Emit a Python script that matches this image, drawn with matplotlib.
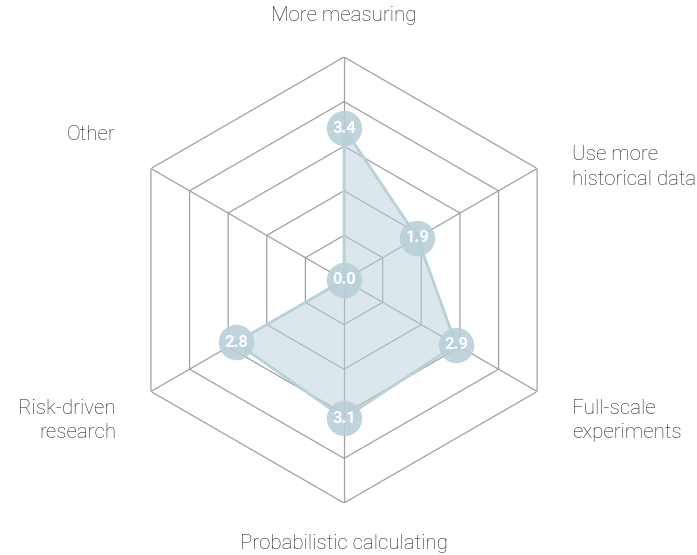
import numpy as np
import matplotlib
matplotlib.use("Agg")
import matplotlib.pyplot as plt

categories = ["More measuring", "Use more\nhistorical data", "Full-scale\nexperiments",
              "Probabilistic calculating", "Risk-driven\nresearch", "Other"]
values = [3.4, 1.9, 2.9, 3.1, 2.8, 0.0]
rings = [1, 2, 3, 4, 5]
r_max = 5

# label placement (theta in degrees clockwise from top, radius in data units)
label_theta = [0, 63.6, 121.7, 180, 238.3, 302.5]
label_r = [5.92, 5.70, 6.01, 5.90, 6.01, 6.08]
label_ha = ["center", "left", "left", "center", "right", "right"]

plt.rcParams['font.family'] = ['Roboto', 'DejaVu Sans']

fig = plt.figure(figsize=(6.97, 5.55), dpi=100)
ax = fig.add_axes([0.1736, 0.0937, 0.640, 0.8036], projection='polar')
ax.set_theta_zero_location('N')
ax.set_theta_direction(-1)
ax.set_ylim(0, r_max)
ax.grid(False)
ax.spines['polar'].set_visible(False)
ax.set_xticks([])
ax.set_yticks([])
ax.patch.set_alpha(0)

n = len(categories)
theta = np.arange(n) * 2 * np.pi / n
theta_closed = np.append(theta, theta[0])

grid_color = "#a0a0a0"
for r in rings:
    ax.plot(theta_closed, [r] * (n + 1), color=grid_color, lw=0.9, zorder=1)
for t in theta:
    ax.plot([t, t], [0, r_max], color=grid_color, lw=0.9, zorder=1)

vals_closed = values + [values[0]]
ax.fill(theta_closed, vals_closed, color="#b8d0d9", alpha=0.5, zorder=2, lw=0)
ax.plot(theta_closed, vals_closed, color="#b8d0d9", lw=2, zorder=3)
ax.plot(theta, values, 'o', ms=25.5, color="#b8d0d9", alpha=0.9, mec='none', zorder=4)
for t, v in zip(theta, values):
    ax.text(t, v, f"{v:.1f}", ha='center', va='center', color='white',
            fontsize=12, fontweight='bold', zorder=5)

for lab, lt, lr, ha in zip(categories, label_theta, label_r, label_ha):
    ax.text(np.deg2rad(lt), lr, lab, ha=ha, va='center', fontsize=14.8,
            fontweight='light', color='#222222', linespacing=1.35, clip_on=False)

fig.savefig("out.png", dpi=100)
